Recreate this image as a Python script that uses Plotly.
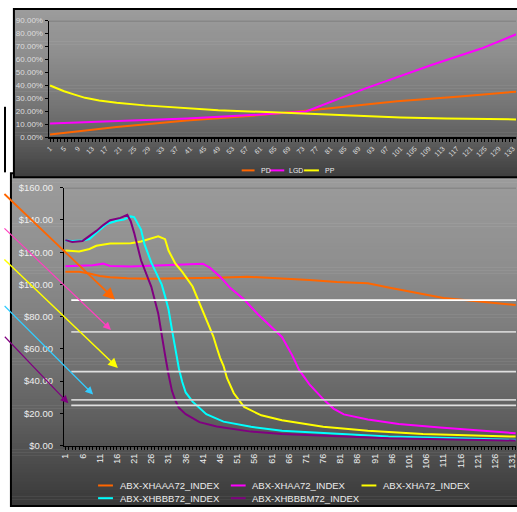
import plotly.graph_objects as go

W, H = 517, 512

# ---------------- Top chart data (percent) ----------------
top_names = ["PD", "LGD", "PP"]
top_colors = ["#FF6600", "#FF00FF", "#FFFF00"]
pd_x = [1, 20, 40, 60, 74, 100, 117, 134]
pd_y = [2.3, 8.0, 13.0, 17.0, 20.5, 27.8, 31.3, 35.3]
lgd_x = [1, 20, 40, 60, 74, 91, 110, 124, 134]
lgd_y = [10.8, 12.5, 14.5, 17.5, 20.0, 37.8, 56.0, 68.5, 79.5]
pp_x = [1, 3, 5, 8, 11, 15, 20, 28, 39, 49, 61, 74, 89, 101, 114, 127, 134]
pp_y = [40.0, 37.5, 35.6, 33.0, 30.5, 28.5, 26.7, 24.7, 22.7, 20.9, 19.7, 18.2, 16.4, 15.4, 14.6, 13.9, 13.9]
top_ticks = [1, 5, 9, 13, 17, 21, 25, 29, 33, 37, 41, 45, 49, 53, 57, 61, 65, 69,
             73, 77, 81, 85, 89, 93, 97, 101, 105, 109, 113, 117, 121, 125, 129, 133]
top_y_ticks = [0, 10, 20, 30, 40, 50, 60, 70, 80, 90]
top_y_labels = ["0.00%", "10.00%", "20.00%", "30.00%", "40.00%", "50.00%", "60.00%",
                "70.00%", "80.00%", "90.00%"]

# ---------------- Bottom chart data (price) ----------------
bot_names = ["ABX-XHAAA72_INDEX", "ABX-XHAA72_INDEX", "ABX-XHA72_INDEX",
             "ABX-XHBBB72_INDEX", "ABX-XHBBBM72_INDEX"]
bot_colors = ["#FF6600", "#FF00FF", "#FFFF00", "#00FFFF", "#800080"]
aaa_x = [1, 5, 8, 11, 14, 19, 25, 35, 45, 54, 64, 72, 80, 89, 95, 103, 111, 117, 124, 132]
aaa_y = [107.8, 107.8, 106.8, 105.2, 104.4, 103.8, 103.6, 103.8, 104.2, 104.8, 103.8, 102.8,
         101.5, 100.8, 98.1, 94.7, 91.6, 90.4, 88.8, 87.2]
aa_x = [1, 6, 9, 12, 14, 20, 29, 35, 41, 43, 46, 49, 53, 57, 61, 64, 67, 69, 72, 76, 79, 82,
        89, 98, 110, 122, 132]
aa_y = [111.3, 111.4, 111.9, 112.9, 111.4, 111.2, 111.9, 112.5, 112.9, 110.5, 104.8, 97.7,
        90.6, 81.5, 73.4, 67.4, 56.0, 47.0, 38.0, 28.9, 23.0, 19.4, 16.2, 13.4, 11.3, 9.1, 7.7]
a_x = [1, 5, 8, 10, 14, 20, 23, 26, 28, 30, 31, 33, 35, 38, 40, 43, 44, 45, 46, 47, 48, 50,
       53, 58, 64, 76, 89, 105, 124, 132]
a_y = [121.0, 120.5, 122.0, 124.0, 125.4, 125.6, 126.6, 128.7, 129.9, 128.1, 121.0, 112.9,
       107.8, 98.7, 88.6, 74.0, 68.0, 61.0, 54.5, 49.5, 42.0, 32.5, 24.0, 18.8, 15.7, 11.7,
       9.3, 7.3, 6.1, 5.6]
bbb_x = [1, 3, 6, 8, 10, 13, 16, 18, 20, 21, 23, 24, 26, 29, 30, 31, 32, 33, 34, 35, 36, 38,
         42, 47, 55, 64, 76, 95, 115, 132]
bbb_y = [127.3, 127.0, 127.3, 128.2, 132.0, 137.5, 139.5, 140.2, 142.2, 141.8, 134.0, 125.0,
         113.5, 100.0, 92.6, 84.6, 72.0, 59.5, 48.0, 39.5, 33.0, 27.3, 19.5, 14.9, 11.7, 9.3,
         7.7, 5.6, 4.6, 3.6]
bbbm_x = [1, 3, 6, 8, 10, 12, 14, 17, 19, 20, 21, 23, 25, 26, 28, 29, 30, 31, 32, 33, 34, 36,
          40, 45, 55, 64, 76, 95, 132]
bbbm_y = [127.5, 126.4, 127.0, 130.0, 133.2, 136.8, 139.8, 141.3, 143.2, 139.2, 132.0, 115.0,
          104.0, 98.5, 82.0, 68.0, 56.2, 44.1, 34.0, 28.0, 23.5, 19.5, 14.6, 11.9, 8.7, 7.3,
          6.2, 4.6, 3.2]
bot_ticks = [1, 6, 11, 16, 21, 26, 31, 36, 41, 46, 51, 56, 61, 66, 71, 76, 81, 86, 91, 96,
             101, 106, 111, 116, 121, 126, 131]
bot_y_ticks = [0, 20, 40, 60, 80, 100, 120, 140, 160]
bot_y_labels = ["$0.00", "$20.00", "$40.00", "$60.00", "$80.00", "$100.00", "$120.00",
                "$140.00", "$160.00"]
level_values = [90.3, 70.6, 45.9, 28.4, 25.0]
level_colors = ["#FFFFFF", "#D2D2D2", "#E0E0E0", "#D2D2D2", "#E0E0E0"]

top_x = [pd_x, lgd_x, pp_x]
top_y = [pd_y, lgd_y, pp_y]
bot_x = [aaa_x, aa_x, a_x, bbb_x, bbbm_x]
bot_y = [aaa_y, aa_y, a_y, bbb_y, bbbm_y]


def px(x):
    return x / W


def py(y):
    return 1 - y / H


fig = go.Figure()
for n, xs, ys, c in zip(top_names, top_x, top_y, top_colors):
    fig.add_trace(go.Scatter(x=xs, y=ys, name=n, mode="lines", xaxis="x", yaxis="y",
                             line=dict(color=c, width=2), showlegend=False))
for n, xs, ys, c in zip(bot_names, bot_x, bot_y, bot_colors):
    fig.add_trace(go.Scatter(x=xs, y=ys, name=n, mode="lines", xaxis="x2", yaxis="y2",
                             line=dict(color=c, width=2), showlegend=False))

shapes = []


def gradient(x0, y0, x1, y1, stops, step=3):
    y = y0
    while y < y1:
        mid = y + step / 2
        v = stops[-1][1]
        for (a, ca), (b, cb) in zip(stops, stops[1:]):
            if a <= mid <= b:
                v = ca + (cb - ca) * (mid - a) / (b - a)
                break
        v = int(round(v))
        shapes.append(dict(type="rect", xref="paper", yref="paper", layer="below",
                           x0=px(x0), x1=px(x1), y0=py(min(y + step + 0.6, y1)), y1=py(y),
                           fillcolor=f"rgb({v},{v},{v})", line=dict(width=0)))
        y += step
    shapes.append(dict(type="rect", xref="paper", yref="paper", layer="below",
                       x0=px(x0), x1=px(x1 + 5), y0=py(y1), y1=py(y0),
                       line=dict(color="black", width=2), fillcolor="rgba(0,0,0,0)"))


# bottom panel then top panel (top overlaps)
gradient(7, 171, 520, 511, [(171, 156), (260, 143), (340, 122), (420, 96), (511, 56)])
gradient(10, 3, 520, 175, [(3, 156), (50, 142), (100, 118), (140, 92), (175, 62)])
# stray frame edge on the far left
shapes.append(dict(type="line", xref="paper", yref="paper", layer="below",
                   x0=px(1), x1=px(1), y0=py(170), y1=py(103), line=dict(color="black", width=2)))

# top gridlines
shapes.append(dict(type="line", xref="x domain", yref="y", layer="below", x0=0, x1=1,
                   y0=90, y1=90, line=dict(color="#777777", width=1.5)))
shapes.append(dict(type="line", xref="x2 domain", yref="y2", layer="below", x0=0, x1=1,
                   y0=160, y1=160, line=dict(color="#777777", width=1.5)))

# horizontal level lines
for v, c in zip(level_values, level_colors):
    shapes.append(dict(type="line", xref="x2", yref="y2", layer="above", x0=2.7, x1=133,
                       y0=v, y1=v, line=dict(color=c, width=1.8)))

annotations = []
# arrows: (color, width, head_x, head_y, tail_x, tail_y) in pixels
arrows = [("#FF6600", 1.8, 112, 300, 0, 193),
          ("#FF40C0", 1.2, 108, 331, 0, 228),
          ("#FFFF00", 1.5, 115, 370, 0, 260),
          ("#33CCFF", 1.2, 90, 397, 0, 307),
          ("#800080", 1.2, 65, 406, 0, 338)]
for c, w, hx, hy, tx, ty in arrows:
    annotations.append(dict(xref="paper", yref="paper", x=px(hx), y=py(hy), text="",
                            showarrow=True, axref="pixel", ayref="pixel",
                            ax=tx - hx, ay=ty - hy, arrowcolor=c, arrowwidth=w,
                            arrowhead=2, arrowsize=1.3, standoff=0))

# manual legends
leg_font = dict(family="Liberation Sans, Arial, sans-serif", color="#ececec")
top_leg = [(240, 253, 257), (268, 283, 286), (303, 318, 322)]
for (l0, l1, tx), n, c in zip(top_leg, top_names, top_colors):
    shapes.append(dict(type="line", xref="paper", yref="paper", x0=px(l0), x1=px(l1),
                       y0=py(168), y1=py(168), line=dict(color=c, width=2)))
    annotations.append(dict(xref="paper", yref="paper", x=px(tx), y=py(168), text=n,
                            showarrow=False, xanchor="left", yanchor="middle",
                            font=dict(size=7, **leg_font)))
bot_leg = [(95, 110, 115, 490), (229, 244, 248, 490), (361, 376, 381, 490),
           (95, 110, 115, 503), (229, 244, 248, 503)]
for (l0, l1, tx, ly), n, c in zip(bot_leg, bot_names, bot_colors):
    shapes.append(dict(type="line", xref="paper", yref="paper", x0=px(l0), x1=px(l1),
                       y0=py(ly), y1=py(ly), line=dict(color=c, width=2)))
    annotations.append(dict(xref="paper", yref="paper", x=px(tx), y=py(ly), text=n,
                            showarrow=False, xanchor="left", yanchor="middle",
                            font=dict(size=9.5, **leg_font)))

axis_common = dict(showline=True, linecolor="black", linewidth=1.5, showgrid=False,
                   zeroline=False, ticks="outside", tickcolor="black", ticklen=3)

fig.update_layout(
    width=W, height=H, margin=dict(l=0, r=0, t=0, b=0),
    paper_bgcolor="white", plot_bgcolor="rgba(0,0,0,0)",
    font=dict(family="Liberation Sans, Arial, sans-serif", color="#e6e6e6"),
    xaxis=dict(domain=[px(45.5), 1], range=[0.72, 133.9], anchor="y",
               tickmode="array", tickvals=top_ticks, ticktext=[str(t) for t in top_ticks],
               tickangle=-45, tickfont=dict(size=7, color="#dddddd"),
               ticklabeloverflow="allow",
               minor=dict(tickmode="linear", tick0=1, dtick=1, ticks="outside",
                          ticklen=3, tickcolor="black"),
               **axis_common),
    yaxis=dict(domain=[py(134.3), py(15)], range=[0, 90], anchor="x",
               tickmode="array", tickvals=top_y_ticks, ticktext=top_y_labels,
               tickfont=dict(size=8, color="#dddddd"), **axis_common),
    xaxis2=dict(domain=[px(61), 1], range=[0.71, 132.1], anchor="y2",
                tickmode="array", tickvals=bot_ticks, ticktext=[str(t) for t in bot_ticks],
                tickangle=-90, tickfont=dict(size=9, color="#eeeeee"),
                ticklabeloverflow="allow",
                minor=dict(tickmode="linear", tick0=1, dtick=1, ticks="outside",
                           ticklen=3, tickcolor="black"),
                **axis_common),
    yaxis2=dict(domain=[py(449.3), py(185.7)], range=[0, 160], anchor="x2",
                tickmode="array", tickvals=bot_y_ticks, ticktext=bot_y_labels,
                tickfont=dict(size=9.5, color="#eeeeee"), ticklabelstandoff=5,
                **axis_common),
    shapes=shapes, annotations=annotations, showlegend=False,
)

fig.write_html("out.html", config={"displayModeBar": False, "staticPlot": True},
               post_script="document.body.style.margin='0';")
